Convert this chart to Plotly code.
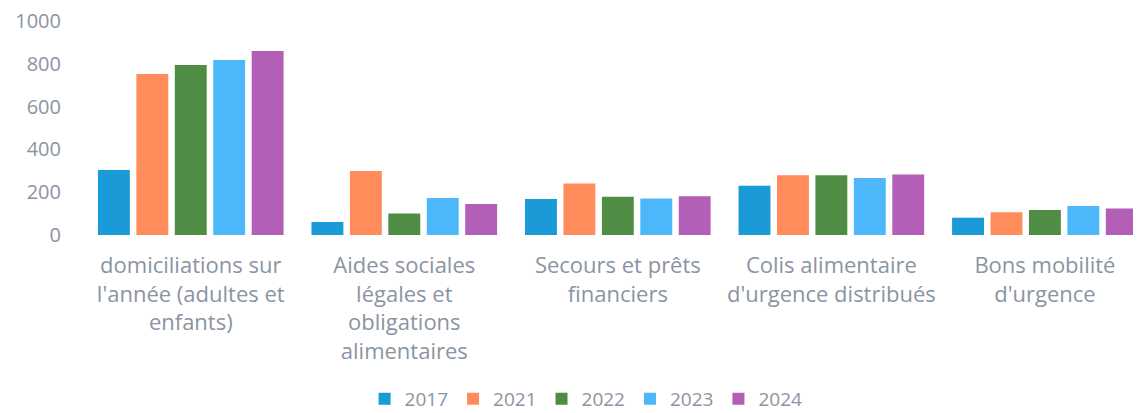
import plotly.graph_objects as go

categories = [
    "domiciliations sur<br>l'année (adultes et<br>enfants)",
    "Aides sociales<br>légales et<br>obligations<br>alimentaires",
    "Secours et prêts<br>financiers",
    "Colis alimentaire<br>d'urgence distribués",
    "Bons mobilité<br>d'urgence",
]

years = ["2017", "2021", "2022", "2023", "2024"]
v2017 = [304, 61, 168, 230, 81]
v2021 = [752, 299, 241, 279, 106]
v2022 = [794, 101, 179, 279, 117]
v2023 = [818, 173, 170, 266, 136]
v2024 = [860, 145, 181, 283, 124]
values = [v2017, v2021, v2022, v2023, v2024]

colors = ["#1a9ad6", "#ff8c5a", "#4f8d44", "#4cb8fb", "#b35fb7"]

fig = go.Figure()
for year, vals, col in zip(years, values, colors):
    fig.add_trace(go.Bar(
        x=categories, y=vals, name=year,
        marker=dict(color=col, line=dict(width=0)),
    ))

grey = "#8a94a2"
# page body adds an 8px offset, so the figure is sized to fit the window
fig.update_layout(
    width=1133, height=405,
    margin=dict(l=76, r=0, t=13, b=178, autoexpand=False),
    paper_bgcolor="white", plot_bgcolor="white",
    font=dict(family="Open Sans, Noto Sans, sans-serif", color=grey, size=20),
    barmode="group",
    bargap=0.1,
    bargroupgap=0.17,
    showlegend=True,
    legend=dict(
        orientation="h", x=0.475, xanchor="center",
        yref="container", y=0.035, yanchor="middle",
        font=dict(size=19, color=grey),
        tracegroupgap=0,
    ),
    xaxis=dict(
        range=[-0.5, 4.45], showgrid=False, zeroline=False, showline=False,
        ticks="", ticklabelstandoff=15, automargin=False,
        tickfont=dict(size=22, color=grey),
    ),
    yaxis=dict(
        range=[0, 1000], dtick=200, showgrid=False, zeroline=False,
        showline=False, ticks="", ticklabelstandoff=22, automargin=False,
        ticklabeloverflow="allow",
        tickfont=dict(size=20, color=grey),
    ),
)

fig.write_html("out.html")
